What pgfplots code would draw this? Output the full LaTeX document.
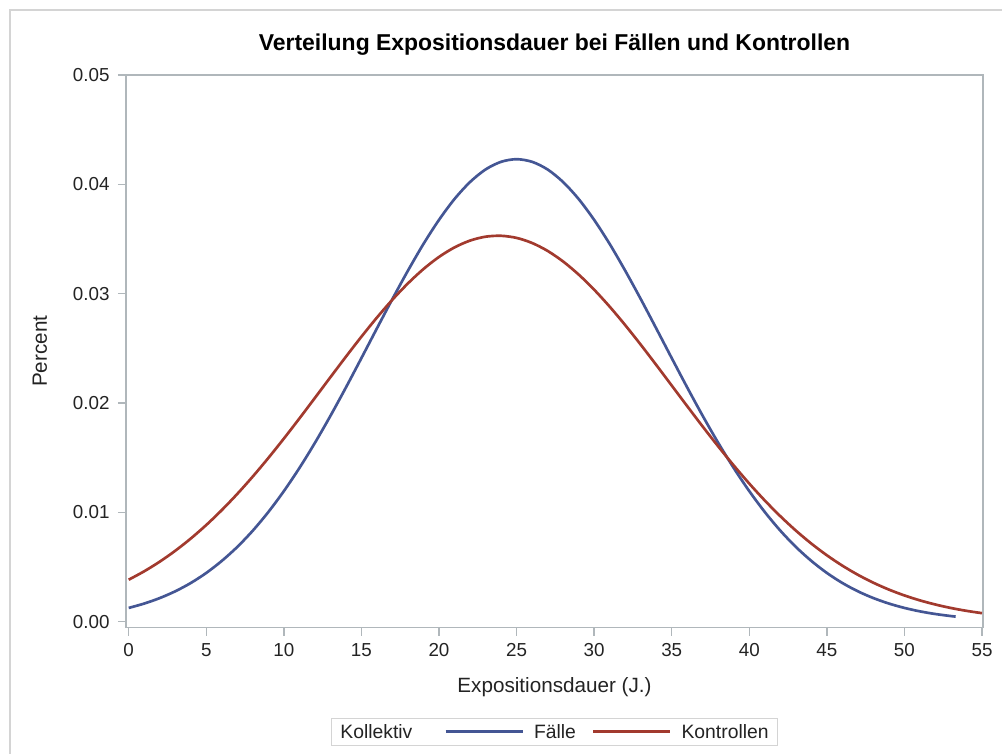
\documentclass[border=0pt]{standalone}
\usepackage{fontspec}
\setmainfont{Liberation Sans}
\usepackage{pgfplots}
\usepackage{pgfplotstable}
\pgfplotsset{compat=1.18}
\definecolor{sasblue}{HTML}{445694}
\definecolor{sasred}{HTML}{A23A2E}
\definecolor{axisgray}{RGB}{176,183,187}
\definecolor{framegray}{RGB}{212,212,212}
\definecolor{txt}{RGB}{35,35,35}

\pgfplotstableread{
x y
0 0.00126
1 0.00166
2 0.00216
3 0.00278
4 0.00354
5 0.00446
6 0.00556
7 0.00684
8 0.00833
9 0.01003
10 0.01194
11 0.01405
12 0.01635
13 0.01882
14 0.02142
15 0.02411
16 0.02683
17 0.02952
18 0.03211
19 0.03455
20 0.03675
21 0.03866
22 0.04021
23 0.04136
24 0.04206
25 0.04230
26 0.04206
27 0.04136
28 0.04021
29 0.03866
30 0.03675
31 0.03455
32 0.03211
33 0.02952
34 0.02683
35 0.02411
36 0.02142
37 0.01882
38 0.01635
39 0.01405
40 0.01194
41 0.01003
42 0.00833
43 0.00684
44 0.00556
45 0.00446
46 0.00354
47 0.00278
48 0.00216
49 0.00166
50 0.00126
51 0.000945
52 0.000702
53 0.000515
53.3 0.000468
}\faelle

\pgfplotstableread{
x y
0 0.003842
1 0.004610
2 0.005490
3 0.006487
4 0.007605
5 0.008845
6 0.010208
7 0.011690
8 0.013281
9 0.014972
10 0.016746
11 0.018584
12 0.020464
13 0.022357
14 0.024235
15 0.026067
16 0.027817
17 0.029454
18 0.030943
19 0.032255
20 0.033360
21 0.034233
22 0.034855
23 0.035212
24 0.035294
25 0.035102
26 0.034637
27 0.033913
28 0.032944
29 0.031753
30 0.030367
31 0.028815
32 0.027128
33 0.025341
34 0.023487
35 0.021600
36 0.019710
37 0.017842
38 0.016028
39 0.014285
40 0.012632
41 0.011084
42 0.009649
43 0.008334
44 0.007143
45 0.006074
46 0.005125
47 0.004290
48 0.003563
49 0.002936
50 0.002401
51 0.001949
52 0.001569
53 0.001253
54 0.000993
55 0.000781
}\kontrollen

\begin{document}
\begin{tikzpicture}
\path[use as bounding box] (-94.5pt,-94.125pt) rectangle (657pt,470.625pt);
\draw[framegray, line width=1pt] (-87pt,-100pt) -- (-87pt,463.125pt) -- (660pt,463.125pt);
\begin{axis}[
  scale only axis,
  width=642.75pt, height=414.375pt,
  xmin=-0.174, xmax=55.064,
  ymin=-0.00053, ymax=0.05,
  xtick={0,5,10,15,20,25,30,35,40,45,50,55},
  ytick={0,0.01,0.02,0.03,0.04,0.05},
  scaled y ticks=false,
  yticklabel style={/pgf/number format/fixed, /pgf/number format/fixed zerofill, /pgf/number format/precision=2},
  /pgf/number format/assume math mode=true,
  tick pos=left,
  tick align=outside,
  major tick length=6pt,
  axis line style={draw=axisgray, line width=1.1pt},
  every tick/.style={draw=axisgray, line width=1.1pt},
  ticklabel style={font=\fontsize{14.1}{17}\selectfont, text=txt},
  yticklabel style={xshift=-2.8pt},
  xticklabel style={yshift=-2.4pt},
  title={Verteilung Expositionsdauer bei Fällen und Kontrollen},
  title style={at={(axis description cs:0.5,1.0398)}, anchor=center, yshift=0pt, font=\bfseries\fontsize{17.2}{20}\selectfont, text=black},
  xlabel={Expositionsdauer (J.)},
  xlabel style={at={(axis description cs:0.5,-0.1077)}, anchor=center, font=\fontsize{15.5}{18}\selectfont, text=txt},
  ylabel={Percent},
  ylabel style={at={(axis description cs:-0.1004,0.5)}, anchor=center, font=\fontsize{15.5}{18}\selectfont, text=txt},
  legend columns=-1,
  legend cell align=left,
  legend image code/.code={\draw[#1] (0pt,0pt) -- (57.75pt,0pt);},
  legend style={at={(axis description cs:0.5,-0.16326)}, anchor=north,
    draw=framegray, line width=0.8pt,
    font=\fontsize{14.5}{17}\selectfont, text=txt,
    inner xsep=6.5pt, inner ysep=4.8pt,
    nodes={inner sep=0pt, text height=10.6pt, text depth=0pt},
    /tikz/every odd column/.append style={column sep=7.5pt},
    /tikz/every even column/.append style={column sep=12pt}},
]
\addlegendimage{empty legend}
\addlegendentry{\hspace*{-7.5pt}Kollektiv\hspace*{12pt}}
\addplot[sasblue, line width=2pt, smooth] table[x=x, y=y] {\faelle};
\addlegendentry{Fälle}
\addplot[sasred, line width=2pt, smooth] table[x=x, y=y] {\kontrollen};
\addlegendentry{Kontrollen}
\end{axis}
\end{tikzpicture}
\end{document}
